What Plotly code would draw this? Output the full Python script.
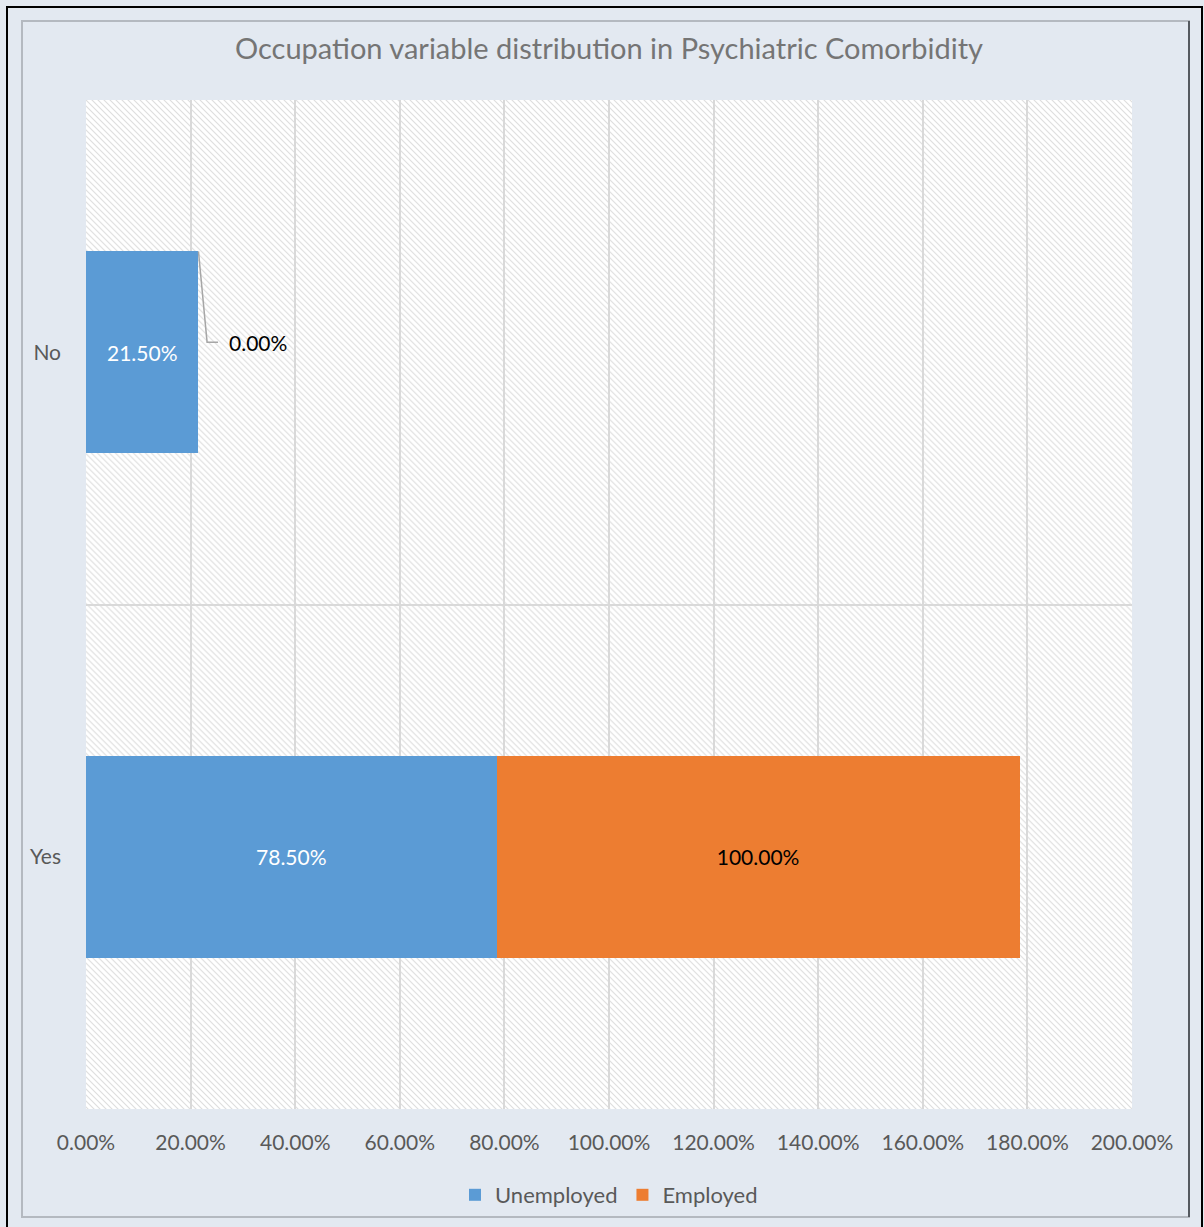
import base64
import plotly.graph_objects as go

categories = ["No", "Yes"]
unemployed = [21.5, 78.5]
employed = [0.0, 100.0]
series_names = ["Unemployed", "Employed"]
x_ticks = [0, 20, 40, 60, 80, 100, 120, 140, 160, 180, 200]
x_tick_labels = ["0.00%", "20.00%", "40.00%", "60.00%", "80.00%", "100.00%",
                 "120.00%", "140.00%", "160.00%", "180.00%", "200.00%"]
title_text = "Occupation variable distribution in Psychiatric Comorbidity"

W, H = 1204, 1227
ML, MR, MT, MB = 86, 72, 100, 117
PW, PH = W - ML - MR, H - MT - MB
FONT = "Lato, 'Open Sans', sans-serif"


def fmt(v):
    return f"{v:.2f}%"


# hatch background as an svg pattern image
svg = (
    f'<svg xmlns="http://www.w3.org/2000/svg" width="{PW}" height="{PH}">'
    '<defs><pattern id="p" width="6" height="6" patternUnits="userSpaceOnUse">'
    '<rect width="6" height="6" fill="#ffffff"/>'
    '<path d="M-1,-1 L7,7 M-1,5 L1,7 M5,-1 L7,1" stroke="#dedede" stroke-width="1.1"/>'
    '</pattern></defs>'
    f'<rect width="{PW}" height="{PH}" fill="url(#p)"/></svg>'
)
svg_uri = "data:image/svg+xml;base64," + base64.b64encode(svg.encode()).decode()

fig = go.Figure()
fig.add_trace(go.Bar(
    y=categories, x=unemployed, name=series_names[0], orientation="h",
    marker=dict(color="#5b9bd5", line=dict(width=0)),
    text=[fmt(v) for v in unemployed], textposition="inside",
    insidetextanchor="middle",
    textfont=dict(color="#ffffff", size=21, family=FONT),
    width=0.4,
))
fig.add_trace(go.Bar(
    y=categories, x=employed, name=series_names[1], orientation="h",
    marker=dict(color="#ed7d31", line=dict(width=0)),
    text=[fmt(v) if v > 0 else "" for v in employed], textposition="inside",
    insidetextanchor="middle",
    textfont=dict(color="#000000", size=21, family=FONT),
    width=0.4,
))

annotations = []
shapes = []
for i, (c, u, e) in enumerate(zip(categories, unemployed, employed)):
    if e == 0:
        end = u + e
        annotations.append(dict(
            x=end + 5.4, y=i - 0.02, xref="x", yref="y", text=fmt(e),
            showarrow=False, xanchor="left", yanchor="middle",
            font=dict(color="#000000", size=21, family=FONT),
        ))
        shapes.append(dict(
            type="path", xref="x", yref="y",
            path=f"M {end},{i - 0.2} L {end + 1.65},{i - 0.02} L {end + 3.75},{i - 0.02}",
            line=dict(color="#a6a6a6", width=1.5), layer="above",
        ))

# frames
def px(x):
    return (x - ML) / PW


def py(y):
    return 1 - (y - MT) / PH


shapes.append(dict(type="rect", xref="paper", yref="paper",
                   x0=px(7), x1=px(1202), y0=py(1240), y1=py(7),
                   line=dict(color="#000000", width=2), fillcolor="rgba(0,0,0,0)",
                   layer="below"))
shapes.append(dict(type="rect", xref="paper", yref="paper",
                   x0=px(22), x1=px(1189), y0=py(1218), y1=py(21),
                   line=dict(color="#b4b9c0", width=2), fillcolor="rgba(0,0,0,0)",
                   layer="below"))
shapes.append(dict(type="line", xref="paper", yref="paper",
                   x0=px(1189), x1=px(1189), y0=py(1218), y1=py(21),
                   line=dict(color="#555a60", width=2), layer="below"))

fig.update_layout(
    width=W, height=H,
    margin=dict(l=ML, r=MR, t=MT, b=MB, pad=0),
    paper_bgcolor="#e3e9f1",
    plot_bgcolor="#ffffff",
    barmode="stack",
    bargap=0.6,
    title=dict(text=title_text, x=0.5, xref="paper", xanchor="center",
               y=1 - 49 / H, yanchor="middle", yref="container",
               font=dict(size=29, color="#757575", family=FONT)),
    font=dict(family=FONT, color="#595959", size=20),
    xaxis=dict(range=[0, 200], tickvals=x_ticks, ticktext=x_tick_labels,
               showgrid=True, gridcolor="#d9d9d9", gridwidth=2,
               zeroline=False, showline=False, ticks="",
               ticklabelstandoff=19,
               tickfont=dict(size=21, color="#595959", family=FONT)),
    yaxis=dict(autorange="reversed", showgrid=True, gridcolor="#d9d9d9",
               gridwidth=2, tickson="boundaries", ticks="", zeroline=False,
               showline=False, ticklabelstandoff=24,
               tickfont=dict(size=21, color="#595959", family=FONT)),
    legend=dict(orientation="h", x=0.5, xanchor="center", y=(1110 - 1195) / PH,
                yanchor="middle", traceorder="normal",
                font=dict(size=22, color="#595959", family=FONT),
                bgcolor="rgba(0,0,0,0)", itemwidth=30),
    images=[dict(source=svg_uri, xref="paper", yref="paper", x=0, y=1,
                 sizex=1, sizey=1, sizing="stretch", layer="below")],
    annotations=annotations,
    shapes=shapes,
)

fig.write_html("out.html")
